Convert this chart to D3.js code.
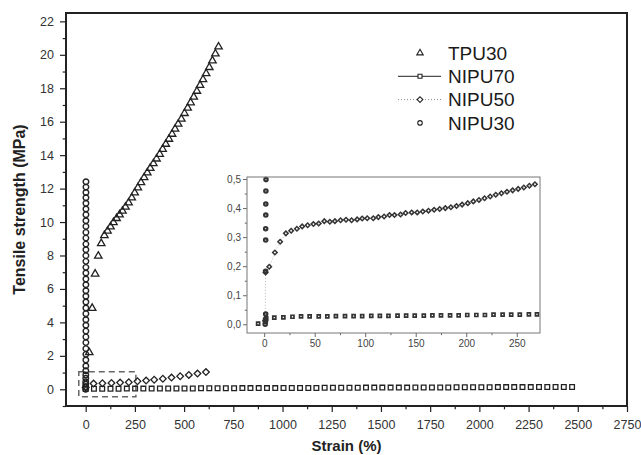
<!DOCTYPE html>
<meta charset="utf-8">
<style>
body { margin: 0; background: #fff; }
text { font-family: "Liberation Sans", Arial, sans-serif; }
.axis path { display: none; }
.axis line { stroke: #222; stroke-width: 1.2; }
.axis text { fill: #333; font-size: 12.5px; }
.inset .axis line { stroke: #666; stroke-width: 1; }
.inset .axis text { fill: #444; font-size: 10px; }
.label { font-weight: bold; font-size: 16px; fill: #222; }
.legend text { font-size: 19px; fill: #1a1a1a; }
</style>
<svg width="641" height="455"></svg>
<script src="https://d3js.org/d3.v7.min.js"></script>
<script>

// ---- main chart data ----
var tpuStrain = [18,33,48,64,79,95,111,126,141,157,172,187,202,
  218,234,249,265,281,297,313,328,344,360,376,391,407,423,439,454,470,486,502,
  518,533,549,565,581,596,612,628,644,659,675];
var tpuStress = [2.2,4.85,6.9,7.97,8.72,9.2,9.46,9.72,9.98,10.22,10.44,10.66,10.9,
  11.15,11.45,11.75,12.05,12.36,12.66,12.95,13.22,13.5,13.78,14.06,14.36,14.66,14.96,15.26,15.56,15.86,16.16,16.5,
  16.82,17.14,17.48,17.83,18.18,18.52,18.88,19.25,19.65,20.06,20.48];

var n70Strain = [0,42,84,126,167,209,251,293,335,377,419,461,502,544,586,628,670,712,754,796,
  837,879,921,963,1005,1047,1089,1131,1172,1214,1256,1298,1340,1382,1424,1466,1507,1549,1591,1633,
  1675,1717,1759,1801,1842,1884,1926,1968,2010,2052,2094,2136,2177,2219,2261,2303,2345,2387,2429,2471];
var n70Stress = [0.02,0.03,0.03,0.03,0.03,0.04,0.04,0.04,0.04,0.05,0.05,0.05,0.05,0.05,0.06,0.06,0.06,0.06,0.06,0.07,
  0.07,0.07,0.07,0.07,0.08,0.08,0.08,0.08,0.08,0.09,0.09,0.09,0.09,0.09,0.1,0.1,0.1,0.1,0.1,0.1,
  0.11,0.11,0.11,0.11,0.11,0.12,0.12,0.12,0.12,0.12,0.13,0.13,0.13,0.13,0.13,0.14,0.14,0.14,0.14,0.14];

var n50Strain = [0,40,85,131,175,219,263,307,348,392,436,480,524,568,611];
var n50Stress = [0.1,0.34,0.36,0.375,0.4,0.42,0.48,0.52,0.57,0.63,0.7,0.78,0.86,0.94,1.03];

var n30Strain = [0,0.1,0.2,0.3,0.4,0.5,0.6,0.7,0.8,0.9,1,1,1,1,1,1,1,1,1,1,
  1,1,1,1,1,1.1,1.1,1.1,1.1,1.1,1.2,1.2,1.2,1.2,1.2,1.3,1.3,1.3,1.3,1.4];
var n30Stress = [0,0.16,0.3,0.45,0.66,0.85,1.11,1.39,1.75,2.09,2.43,2.79,3.13,3.48,3.83,4.16,4.52,4.86,5.22,5.56,
  5.89,6.25,6.59,6.95,7.29,7.65,7.99,8.34,8.68,9.04,9.38,9.74,10.08,10.44,10.78,11.12,11.45,11.77,12.09,12.41];

// ---- inset data (low-strain detail) ----
var i70Strain = [-6,1.5,2,10,19,28,36.5,45,54,62.5,71,80,88.5,97,106,114.5,123,132,140.5,149,
  158,166.5,175,184,192.5,201,210,218.5,227,236,244.5,253,262,270];
var i70Stress = [0.002,0.01,0.02,0.023,0.024,0.026,0.027,0.027,0.027,0.027,0.028,0.028,0.028,0.028,0.029,0.029,0.029,0.03,0.03,0.03,
  0.03,0.031,0.031,0.031,0.031,0.032,0.032,0.032,0.033,0.033,0.033,0.033,0.034,0.034];

var i50Strain = [1,1.4,5,10.6,15.8,21.5,26.7,32.4,37.6,43,48.7,54,59.5,65,70,75.6,81,86.5,92,97,102,108,113,118.7,124,129,135,140,146,151.5,
  157,162.6,168.2,173.7,179.3,184.8,190.4,195.9,201.5,207,212.6,218.1,223.7,229.2,234.8,240.3,245.9,251.4,257,262.5,268];
var i50Stress = [0.012,0.178,0.198,0.247,0.284,0.313,0.322,0.329,0.337,0.341,0.345,0.347,0.355,0.353,0.355,0.358,0.36,0.358,0.361,0.364,0.365,0.365,0.369,0.371,0.376,0.376,0.378,0.383,0.385,0.385,
  0.388,0.391,0.394,0.397,0.4,0.403,0.407,0.412,0.417,0.423,0.428,0.434,0.44,0.446,0.451,0.456,0.461,0.466,0.471,0.477,0.482];

var i30Strain = [1,1.2,1.3,1.5,1.4,1.5,1.5,1.6,1.6,1.7,1.8];
var i30Stress = [0,0.01,0.017,0.035,0.182,0.29,0.329,0.376,0.414,0.459,0.498];

var legendNames = ["TPU30", "NIPU70", "NIPU50", "NIPU30"];
var zoomBox = {x: [-35, 255], y: [-0.45, 1.05]};

function pairs(xs, ys) { return xs.map(function(v, i) { return [v, ys[i]]; }); }

var svg = d3.select("svg");

var x = d3.scaleLinear().domain([-100, 2750]).range([66, 627]),
    y = d3.scaleLinear().domain([-1, 22.5]).range([406, 13]);

var sym = {
  tri: d3.symbol().type(d3.symbolTriangle).size(24),
  sq: d3.symbol().type(d3.symbolSquare).size(22),
  dia: d3.symbol().type(d3.symbolSquare).size(22),
  cir: d3.symbol().type(d3.symbolCircle).size(24)
};

// minor + major ticks
function ticks(g, axisFn, scale, major, minor, fmt, size, pad) {
  g.append("g").attr("class", "axis")
    .call(axisFn(scale).tickValues(minor).tickSize(size * 0.55).tickFormat(""));
  g.append("g").attr("class", "axis")
    .call(axisFn(scale).tickValues(major).tickSize(size).tickPadding(pad).tickFormat(fmt));
}

var gx = svg.append("g").attr("transform", "translate(0,406)");
ticks(gx, d3.axisBottom, x, d3.range(0, 2751, 250), d3.range(125, 2750, 250), d3.format("d"), 6, 8);
var gy = svg.append("g").attr("transform", "translate(66,0)");
ticks(gy, d3.axisLeft, y, d3.range(0, 23, 2), d3.range(-1, 23, 2), d3.format("d"), 6, 6);

// frame
svg.append("rect").attr("x", x(-100)).attr("y", y(22.5))
  .attr("width", x(2750) - x(-100)).attr("height", y(-1) - y(22.5))
  .attr("fill", "none").attr("stroke", "#222").attr("stroke-width", 2);

svg.append("text").attr("class", "label")
  .attr("transform", "translate(25," + ((y(-1) + y(22.5)) / 2) + ") rotate(-90)")
  .attr("text-anchor", "middle").text("Tensile strength (MPa)");
svg.append("text").attr("class", "label").style("font-size", "15px")
  .attr("x", (x(-100) + x(2750)) / 2).attr("y", 451)
  .attr("text-anchor", "middle").text("Strain (%)");

// zoom region marker
svg.append("rect")
  .attr("x", x(zoomBox.x[0])).attr("y", y(zoomBox.y[1]))
  .attr("width", x(zoomBox.x[1]) - x(zoomBox.x[0]))
  .attr("height", y(zoomBox.y[0]) - y(zoomBox.y[1]))
  .attr("fill", "none").attr("stroke", "#666").attr("stroke-width", 1.5)
  .attr("stroke-dasharray", "6,4");

function marks(g, data, sx, sy, path, rot, stroke, sw) {
  g.selectAll(null).data(data).enter().append("path")
    .attr("d", path)
    .attr("transform", function(d) {
      return "translate(" + sx(d[0]) + "," + sy(d[1]) + ")" + (rot ? " rotate(45)" : "");
    })
    .attr("fill", "none").attr("stroke", stroke).attr("stroke-width", sw);
}

var plot = svg.append("g");
marks(plot, pairs(n70Strain, n70Stress), x, y, sym.sq, false, "#222", 1.3);
marks(plot, pairs(n50Strain, n50Stress), x, y, sym.dia, true, "#222", 1.3);
marks(plot, pairs(n30Strain, n30Stress), x, y, sym.cir, false, "#222", 1.4);
marks(plot, pairs(tpuStrain, tpuStress), x, y, sym.tri, false, "#222", 1.3);

// ---- inset ----
var xi = d3.scaleLinear().domain([-17, 273]).range([247, 540]),
    yi = d3.scaleLinear().domain([-0.03, 0.507]).range([333, 177]);
var comma = d3.formatLocale({decimal: ",", thousands: ".", grouping: [3], currency: ["", ""]}).format(".1f");

var inset = svg.append("g").attr("class", "inset");
inset.append("rect").attr("x", 247).attr("y", 177).attr("width", 293).attr("height", 156).attr("fill", "#fff");
var ix = inset.append("g").attr("transform", "translate(0,333)");
ticks(ix, d3.axisBottom, xi, d3.range(0, 251, 50), d3.range(25, 273, 50), d3.format("d"), 4, 3);
var iy = inset.append("g").attr("transform", "translate(247,0)");
ticks(iy, d3.axisLeft, yi, d3.range(0, 0.51, 0.1), d3.range(0.05, 0.5, 0.1), comma, 4, 2);

inset.append("defs").append("clipPath").attr("id", "ic")
  .append("rect").attr("x", 247).attr("y", 176).attr("width", 294).attr("height", 157);
var ip = inset.append("g").attr("clip-path", "url(#ic)");
ip.append("path").datum(pairs(i50Strain, i50Stress))
  .attr("d", d3.line().x(function(d) { return xi(d[0]); }).y(function(d) { return yi(d[1]); }))
  .attr("fill", "none").attr("stroke", "#bbb").attr("stroke-width", 1).attr("stroke-dasharray", "1,2");
var small = {
  sq: d3.symbol().type(d3.symbolSquare).size(9),
  dia: d3.symbol().type(d3.symbolSquare).size(10),
  cir: d3.symbol().type(d3.symbolCircle).size(9)
};
marks(ip, pairs(i70Strain, i70Stress), xi, yi, small.sq, false, "#333", 1.7);
marks(ip, pairs(i50Strain, i50Stress), xi, yi, small.dia, true, "#333", 1.5);
marks(ip, pairs(i30Strain, i30Stress), xi, yi, small.cir, false, "#333", 2.2);

inset.append("rect").attr("x", 247).attr("y", 177).attr("width", 293).attr("height", 156)
  .attr("fill", "none").attr("stroke", "#777").attr("stroke-width", 1);

// ---- legend ----
var legend = svg.append("g").attr("class", "legend");
var legSym = [d3.symbol().type(d3.symbolTriangle).size(18), d3.symbol().type(d3.symbolSquare).size(16),
              d3.symbol().type(d3.symbolSquare).size(16), d3.symbol().type(d3.symbolCircle).size(16)];
var legLine = [null, "none", "1,2", null];
legendNames.forEach(function(name, i) {
  var row = legend.append("g").attr("transform", "translate(420," + (53 + i * 23.3) + ")");
  if (legLine[i]) {
    row.append("line").attr("x1", -22).attr("x2", 21)
      .attr("stroke", i === 1 ? "#222" : "#888").attr("stroke-width", 1)
      .attr("stroke-dasharray", legLine[i] === "none" ? null : legLine[i]);
  }
  row.append("path").attr("d", legSym[i])
    .attr("transform", i === 2 ? "rotate(45)" : null)
    .attr("fill", "#fff").attr("stroke", "#222").attr("stroke-width", 1.1);
  row.append("text").attr("x", 28).attr("dy", "0.36em").text(name);
});

</script>
